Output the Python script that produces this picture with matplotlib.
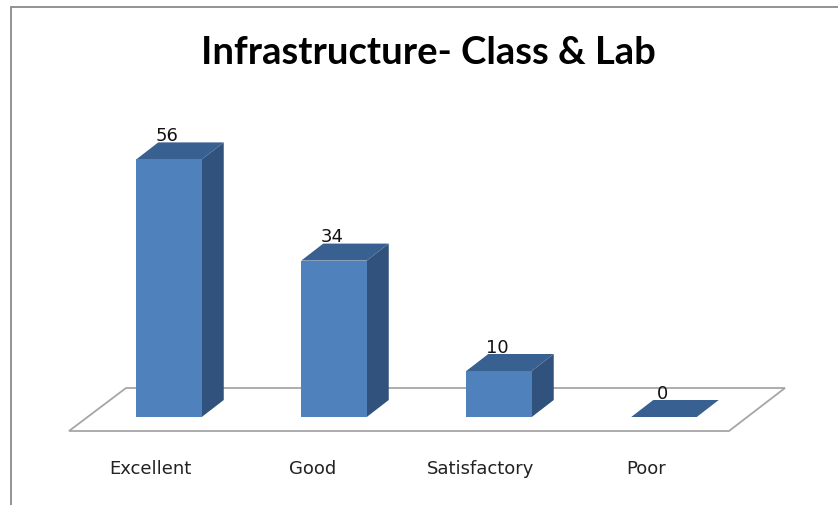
import matplotlib
matplotlib.use("Agg")
import matplotlib.pyplot as plt
from matplotlib.patches import Polygon

categories = ["Excellent", "Good", "Satisfactory", "Poor"]
values = [56, 34, 10, 0]
label_shift_px = [-19, -21, -18, -18]

W, H = 838, 506
X0, DXPX = 169.0, 165.0     # pixel centre of first bar, spacing
Y0, DYPX = 417.0, 4.6       # pixel of zero, pixels per unit
BAR_W = 65.5 / DXPX
DEPTH_X = 22 / DXPX
DEPTH_Y = 17 / DYPX

fig = plt.figure(figsize=(W / 100, H / 100), dpi=100, facecolor="white")
ax = fig.add_axes([0, 0, 1, 1])
ax.set_xlim(-X0 / DXPX, (W - X0) / DXPX)
ax.set_ylim((Y0 - H + 1) / DYPX, (Y0 + 1) / DYPX)
ax.axis("off")


def P(x, y):
    return ((x - X0) / DXPX, (Y0 - y) / DYPX)


# outer chart border (open at right and bottom)
ax.plot(*zip(P(11, H + 2), P(11, 7), P(W + 2, 7)), color="#8a8a8a", lw=1.3, zorder=1,
        solid_joinstyle="miter")

# floor
floor = [P(69, 431), P(126, 388), P(785, 388), P(729, 431)]
ax.add_patch(Polygon(floor, closed=True, fc="white", ec="#a6a6a6", lw=1.3, zorder=2))

FRONT, SIDE, TOP = "#4F81BD", "#30527C", "#386090"
for i, (c, v) in enumerate(zip(categories, values)):
    left, right = i - BAR_W / 2, i + BAR_W / 2
    if v > 0:
        ax.add_patch(Polygon([(right, 0), (right + DEPTH_X, DEPTH_Y),
                              (right + DEPTH_X, v + DEPTH_Y), (right, v)],
                             closed=True, fc=SIDE, ec="none", zorder=3))
        ax.bar(i, v, width=BAR_W, color=FRONT, linewidth=0, zorder=4)
    ax.add_patch(Polygon([(left, v), (right, v), (right + DEPTH_X, v + DEPTH_Y),
                          (left + DEPTH_X, v + DEPTH_Y)],
                         closed=True, fc=TOP, ec="none", zorder=3))
    ax.text(i - 0.01, v + DEPTH_Y + 2.0, str(v), ha="center", va="center_baseline",
            fontsize=13, family="DejaVu Sans", color="#111111", zorder=5)
    ax.text(i + label_shift_px[i] / DXPX, (Y0 - 468) / DYPX, c, ha="center", va="center",
            fontsize=13, family="DejaVu Sans", color="#222222", zorder=5)

ax.text((428 - X0) / DXPX, (Y0 - 52) / DYPX, "Infrastructure- Class & Lab",
        ha="center", va="center", fontsize=27.5, fontweight="bold", family="Lato",
        color="black", zorder=5)

fig.savefig("out.png", dpi=100, facecolor="white")
